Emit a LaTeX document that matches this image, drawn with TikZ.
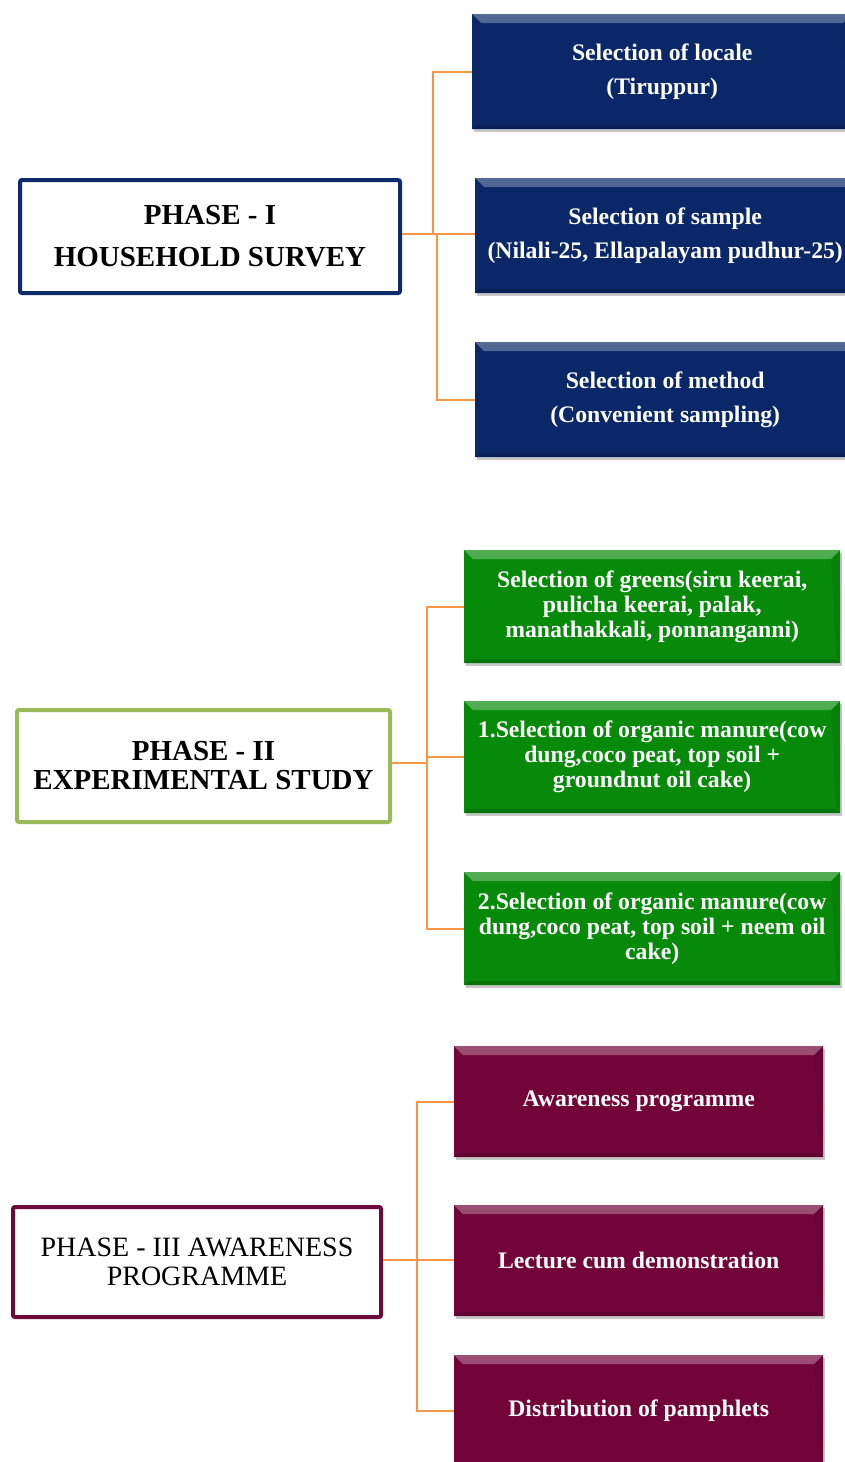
\documentclass[tikz,border=0pt]{standalone}
\usepackage{fontspec}
\setmainfont{Liberation Serif}
\usetikzlibrary{shadows}
\definecolor{navyb}{HTML}{0A2868}
\definecolor{greenb}{HTML}{078A0A}
\definecolor{maroonb}{HTML}{720439}
\definecolor{pone}{HTML}{0E2A6A}
\definecolor{ptwo}{HTML}{9BBB59}
\definecolor{pthree}{HTML}{6E0A3A}
\definecolor{conncol}{HTML}{F79646}
\tikzset{
  phasebox/.style={draw=#1, line width=4pt, rounded corners=2pt, fill=white, anchor=north west, align=center, inner sep=0pt},
  childbox/.style={fill=#1, anchor=north west, align=center, inner sep=0pt, text=white,
    drop shadow={shadow xshift=2pt, shadow yshift=-3pt, fill=black, opacity=0.22},
    path picture={
      \fill[top color=#1!70!white, bottom color=#1]
        (path picture bounding box.north west) -- (path picture bounding box.north east)
        -- ([xshift=-9pt,yshift=-9pt]path picture bounding box.north east)
        -- ([xshift=9pt,yshift=-9pt]path picture bounding box.north west) -- cycle;
      \fill[#1!85!black]
        (path picture bounding box.south west) -- (path picture bounding box.south east)
        -- ([xshift=-4pt,yshift=4pt]path picture bounding box.south east)
        -- ([xshift=4pt,yshift=4pt]path picture bounding box.south west) -- cycle;
      \fill[#1!93!black]
        (path picture bounding box.north east) -- (path picture bounding box.south east)
        -- ([xshift=-4pt,yshift=4pt]path picture bounding box.south east)
        -- ([xshift=-9pt,yshift=-9pt]path picture bounding box.north east) -- cycle;
    }},
  conn/.style={draw=conncol, line width=1.6pt},
  bigtxt/.style={font=\fontsize{23.7}{34}\selectfont\bfseries},
  tighttxt/.style={font=\fontsize{23.7}{25}\selectfont\bfseries},
}
\begin{document}
\begin{tikzpicture}[x=1pt,y=-1pt]
\useasboundingbox (0,0) rectangle (845,1462);
\fill[white] (0,0) rectangle (845,1462);

% Phase I
\node[phasebox=pone, minimum width=380pt, minimum height=113pt, font=\fontsize{29}{42}\selectfont\bfseries] (p1) at (18,178) {PHASE - I\\HOUSEHOLD SURVEY};
\node[childbox=navyb, bigtxt, minimum width=380pt, minimum height=115pt] (b1) at (472,14) {Selection of locale\\(Tiruppur)};
\node[childbox=navyb, bigtxt, minimum width=380pt, minimum height=115pt] (b2) at (475,178) {Selection of sample\\(Nilali-25, Ellapalayam pudhur-25)};
\node[childbox=navyb, bigtxt, minimum width=380pt, minimum height=115pt] (b3) at (475,342) {Selection of method\\(Convenient sampling)};
\coordinate (j1) at (433,234);
\coordinate (j1b) at (437,234);
\draw[conn] (p1.east |- j1) -- (j1) |- (b1.west);
\draw[conn] (j1) -- (b2.west |- j1);
\draw[conn] (j1b) |- (b3.west);

% Phase II
\node[phasebox=ptwo, minimum width=373pt, minimum height=112pt, font=\fontsize{29}{29}\selectfont\bfseries] (p2) at (15,708) {PHASE - II\\EXPERIMENTAL STUDY};
\node[childbox=greenb, tighttxt, minimum width=376pt, minimum height=113pt] (g1) at (464,550) {Selection of greens(siru keerai,\\pulicha keerai, palak,\\manathakkali, ponnanganni)};
\node[childbox=greenb, tighttxt, minimum width=376pt, minimum height=112pt] (g2) at (464,701) {1.Selection of organic manure(cow\\dung,coco peat, top soil +\\groundnut oil cake)};
\node[childbox=greenb, tighttxt, minimum width=376pt, minimum height=113pt] (g3) at (464,872) {2.Selection of organic manure(cow\\dung,coco peat, top soil + neem oil\\cake)};
\coordinate (j2) at (427,763);
\draw[conn] (p2.east |- j2) -- (j2);
\draw[conn] (j2) |- (g1.west);
\draw[conn] (j2) |- (g3.west);
\draw[conn] (j2 |- g2.west) -- (g2.west);

% Phase III
\node[phasebox=pthree, minimum width=368pt, minimum height=110pt, font=\fontsize{28}{29}\selectfont] (p3) at (11,1205) {PHASE - III AWARENESS\\PROGRAMME};
\node[childbox=maroonb, bigtxt, minimum width=369pt, minimum height=111pt] (m1) at (454,1046) {Awareness programme};
\node[childbox=maroonb, bigtxt, minimum width=369pt, minimum height=111pt] (m2) at (454,1205) {Lecture cum demonstration};
\node[childbox=maroonb, bigtxt, minimum width=369pt, minimum height=111pt] (m3) at (454,1355) {Distribution of pamphlets};
\coordinate (j3) at (417,1260);
\draw[conn] (p3.east |- j3) -- (m2.west |- j3);
\draw[conn] (j3) |- (m1.west);
\draw[conn] (j3) |- (m3.west);
\end{tikzpicture}
\end{document}
